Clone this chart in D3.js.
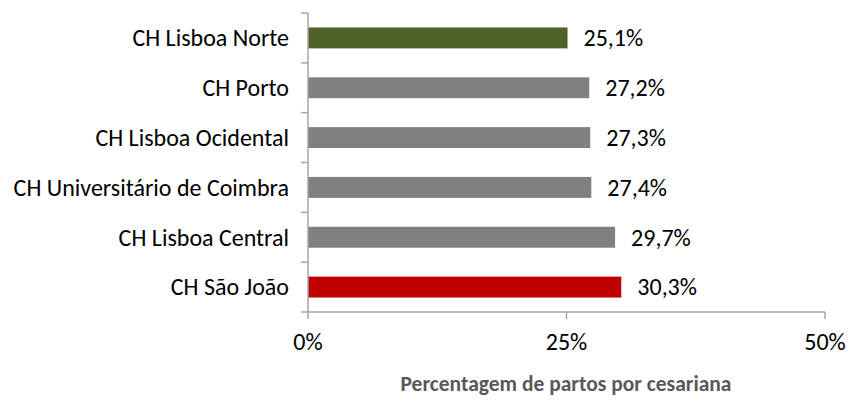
<!DOCTYPE html>
<html>
<head>
<meta charset="utf-8">
<script src="https://cdn.jsdelivr.net/npm/d3@7"></script>
<style>
  html, body { margin: 0; padding: 0; background: #fff; }
  svg { display: block; }
  text { font-family: Carlito, Calibri, Lato, "Open Sans", sans-serif; }
</style>
</head>
<body>
<svg id="chart" width="849" height="418"></svg>
<script>
const categories = ["CH Lisboa Norte", "CH Porto", "CH Lisboa Ocidental", "CH Universitário de Coimbra", "CH Lisboa Central", "CH São João"];
const values = [25.1, 27.2, 27.3, 27.4, 29.7, 30.3];
const barColors = ["#4F6228", "#808080", "#808080", "#808080", "#808080", "#C00000"];
const tickValues = [0, 25, 50];
const tickLabels = ["0%", "25%", "50%"];
const axisTitle = "Percentagem de partos por cesariana";

const svg = d3.select("#chart");
const plotLeft = 308, plotRight = 825, plotTop = 13, plotBottom = 312;
const axisColor = "#A6A6A6";
const fontSize = 24;

const x = d3.scaleLinear().domain([0, 50]).range([plotLeft, plotRight]);
const y = d3.scaleBand().domain(categories).range([plotTop, plotBottom]).paddingInner(0.58).paddingOuter(0.29);

// bars
svg.selectAll("rect.bar").data(categories).enter().append("rect")
  .attr("class", "bar")
  .attr("x", x(0))
  .attr("y", d => y(d))
  .attr("width", (d, i) => x(values[i]) - x(0))
  .attr("height", y.bandwidth())
  .attr("fill", (d, i) => barColors[i]);

// value labels
const fmt = v => d3.format(".1f")(v).replace(".", ",") + "%";
svg.selectAll("text.val").data(categories).enter().append("text")
  .attr("class", "val")
  .attr("x", (d, i) => x(values[i]) + 16)
  .attr("y", d => y(d) + y.bandwidth() / 2)
  .attr("dy", "0.35em")
  .attr("font-size", fontSize)
  .attr("fill", "#000")
  .text((d, i) => fmt(values[i]));

// y axis (category)
const yAxis = svg.append("g");
yAxis.append("line")
  .attr("x1", plotLeft).attr("x2", plotLeft)
  .attr("y1", plotTop).attr("y2", plotBottom)
  .attr("stroke", axisColor).attr("stroke-width", 1.5);
const step = y.step();
const boundaries = d3.range(categories.length + 1).map(k => y(categories[0]) - step * y.paddingInner() / 2 + k * step);
yAxis.selectAll("line.tk").data(boundaries).enter().append("line")
  .attr("class", "tk")
  .attr("x1", plotLeft - 7).attr("x2", plotLeft)
  .attr("y1", d => d).attr("y2", d => d)
  .attr("stroke", axisColor).attr("stroke-width", 1.5);
yAxis.selectAll("text").data(categories).enter().append("text")
  .attr("x", plotLeft - 19)
  .attr("y", d => y(d) + y.bandwidth() / 2)
  .attr("dy", "0.35em")
  .attr("text-anchor", "end")
  .attr("font-size", fontSize)
  .attr("fill", "#000")
  .text(d => d);

// x axis
const xAxis = svg.append("g");
xAxis.append("line")
  .attr("x1", plotLeft).attr("x2", plotRight)
  .attr("y1", plotBottom).attr("y2", plotBottom)
  .attr("stroke", axisColor).attr("stroke-width", 1.5);
xAxis.selectAll("line.tk").data(tickValues).enter().append("line")
  .attr("class", "tk")
  .attr("x1", d => x(d)).attr("x2", d => x(d))
  .attr("y1", plotBottom).attr("y2", plotBottom + 7)
  .attr("stroke", axisColor).attr("stroke-width", 1.5);
xAxis.selectAll("text").data(tickValues).enter().append("text")
  .attr("x", d => x(d))
  .attr("y", 350)
  .attr("text-anchor", "middle")
  .attr("font-size", fontSize)
  .attr("fill", "#000")
  .text((d, i) => tickLabels[i]);

// axis title
svg.append("text")
  .attr("x", 566)
  .attr("y", 391)
  .attr("text-anchor", "middle")
  .attr("font-size", 21.5)
  .attr("font-weight", "bold")
  .attr("fill", "#595959")
  .text(axisTitle);
</script>
</body>
</html>
